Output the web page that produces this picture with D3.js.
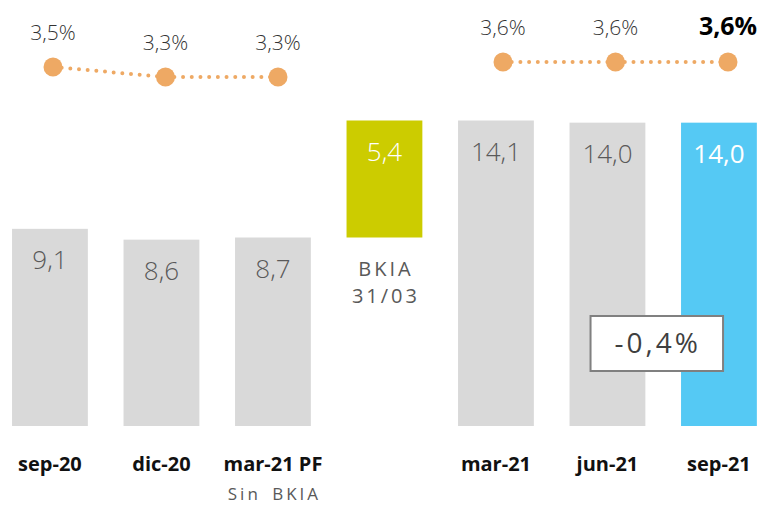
<!DOCTYPE html>
<html>
<head>
<meta charset="utf-8">
<script src="https://cdn.jsdelivr.net/npm/d3@7"></script>
<style>
  html, body { margin: 0; padding: 0; background: #fff; }
  svg { display: block; font-family: "Open Sans", "Noto Sans", sans-serif; }
</style>
</head>
<body>
<svg id="chart" width="760" height="506"></svg>
<script>
// Categories along the x axis
const categories = ["sep-20", "dic-20", "mar-21 PF", "BKIA", "mar-21", "jun-21", "sep-21"];
// Bar values (bn €); BKIA is a floating bridge from mar-21 PF to mar-21
const barValues = [9.1, 8.6, 8.7, 5.4, 14.1, 14.0, 14.0];
const barBases  = [0, 0, 0, 8.7, 0, 0, 0];
const barLabels = ["9,1", "8,6", "8,7", "5,4", "14,1", "14,0", "14,0"];
const barKinds  = ["grey", "grey", "grey", "bridge", "grey", "grey", "current"];
// Ratio line, drawn as two separate segments
const ratioGroups = [
  ["sep-20", "dic-20", "mar-21 PF"],
  ["mar-21", "jun-21", "sep-21"]
];
const ratioValues = {"sep-20": 3.5, "dic-20": 3.3, "mar-21 PF": 3.3, "mar-21": 3.6, "jun-21": 3.6, "sep-21": 3.6};
const ratioLabels = {"sep-20": "3,5%", "dic-20": "3,3%", "mar-21 PF": "3,3%", "mar-21": "3,6%", "jun-21": "3,6%", "sep-21": "3,6%"};
const axisLabels = ["sep-20", "dic-20", "mar-21 PF", "", "mar-21", "jun-21", "sep-21"];
const changeLabel = "-0,4%";

const colors = { grey: "#d9d9d9", bridge: "#cccc00", current: "#55c9f4", dot: "#eea964" };

const svg = d3.select("#chart");

const x = d3.scaleBand().domain(categories).range([-5.8, 774.7])
  .paddingInner(0.32).paddingOuter(0.16);
const y = d3.scaleLinear().domain([0, 14.1]).range([426, 120.5]);
const yr = d3.scaleLinear().domain([3.3, 3.6]).range([77, 62]);
const xr = d3.scalePoint().domain(categories).range([53, 728]);

const bars = categories.map((c, i) => ({
  cat: c, v: barValues[i], base: barBases[i], label: barLabels[i], kind: barKinds[i]
}));

// Bars
svg.append("g").selectAll("rect").data(bars).join("rect")
  .attr("x", d => x(d.cat))
  .attr("width", x.bandwidth())
  .attr("y", d => y(d.base + d.v))
  .attr("height", d => y(d.base) - y(d.base + d.v))
  .attr("fill", d => colors[d.kind]);

// Value labels inside bars
svg.append("g").selectAll("text").data(bars).join("text")
  .attr("x", d => x(d.cat) + x.bandwidth() / 2)
  .attr("y", d => y(d.base + d.v) + 40)
  .attr("text-anchor", "middle")
  .attr("font-size", 26)
  .attr("font-weight", d => d.kind === "current" ? 500 : 300)
  .attr("fill", d => d.kind === "grey" ? "#595959" : "#ffffff")
  .text(d => d.label);

// Caption under the bridge bar
const bk = bars[3];
const bkText = svg.append("text")
  .attr("text-anchor", "middle")
  .attr("font-size", 20)
  .attr("letter-spacing", 3)
  .attr("fill", "#595959");
bkText.append("tspan").attr("x", x(bk.cat) + x.bandwidth() / 2 + 1.5).attr("y", y(bk.base) + 38).text("BKIA");
bkText.append("tspan").attr("x", x(bk.cat) + x.bandwidth() / 2 + 1.5).attr("y", y(bk.base) + 65).text("31/03");

// Category labels
svg.append("g").selectAll("text").data(categories).join("text")
  .attr("x", d => x(d) + x.bandwidth() / 2)
  .attr("y", 471)
  .attr("text-anchor", "middle")
  .attr("font-size", 20)
  .attr("font-weight", 700)
  .attr("fill", "#111")
  .text((d, i) => axisLabels[i]);

svg.append("text")
  .attr("x", x("mar-21 PF") + x.bandwidth() / 2 + 1.5)
  .attr("y", 500)
  .attr("text-anchor", "middle")
  .attr("font-size", 17)
  .attr("letter-spacing", 3)
  .attr("word-spacing", 4)
  .attr("fill", "#595959")
  .text("Sin BKIA");

// Ratio segments (dotted) with markers
const line = d3.line().x(d => xr(d)).y(d => yr(ratioValues[d]));
ratioGroups.forEach(g => {
  svg.append("path")
    .attr("d", line(g))
    .attr("fill", "none")
    .attr("stroke", colors.dot)
    .attr("stroke-width", 4)
    .attr("stroke-linecap", "round")
    .attr("stroke-dasharray", "0 8.7");
});
const pts = ratioGroups.flat();
svg.append("g").selectAll("circle").data(pts).join("circle")
  .attr("cx", d => xr(d))
  .attr("cy", d => yr(ratioValues[d]))
  .attr("r", 9.5)
  .attr("fill", colors.dot);

svg.append("g").selectAll("text").data(pts).join("text")
  .attr("x", d => xr(d))
  .attr("y", d => yr(ratioValues[d]) - 27)
  .attr("text-anchor", "middle")
  .attr("font-size", d => d === "sep-21" ? 25 : 21)
  .attr("font-weight", d => d === "sep-21" ? 700 : 300)
  .attr("fill", d => d === "sep-21" ? "#000" : "#333")
  .text(d => ratioLabels[d]);

// Change box across jun-21 / sep-21
const bx0 = x("jun-21") + 21, bx1 = x("sep-21") + 42;
svg.append("rect")
  .attr("x", bx0).attr("y", 316)
  .attr("width", bx1 - bx0).attr("height", 55)
  .attr("fill", "#fff")
  .attr("stroke", "#808080")
  .attr("stroke-width", 2);
svg.append("text")
  .attr("x", (bx0 + bx1) / 2 + 1)
  .attr("y", 353)
  .attr("text-anchor", "middle")
  .attr("font-size", 28)
  .attr("font-weight", 500)
  .attr("letter-spacing", 3)
  .attr("fill", "#3f3f3f")
  .text(changeLabel);
</script>
</body>
</html>
